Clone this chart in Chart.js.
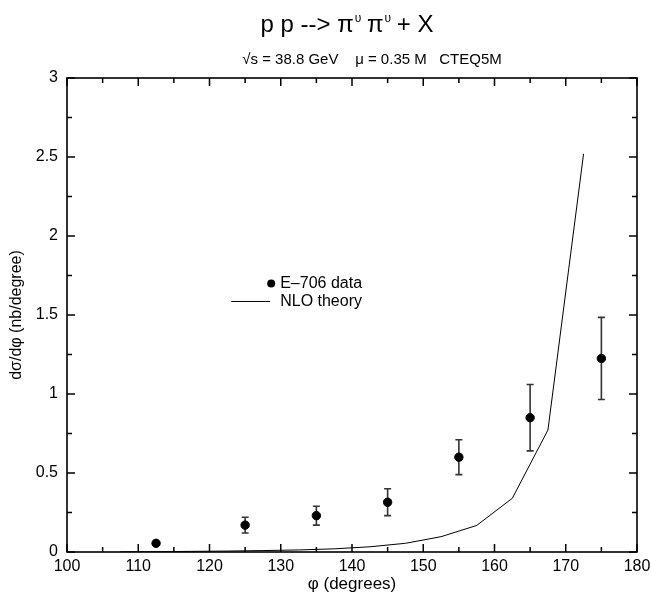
<!DOCTYPE html>
<html>
<head>
<meta charset="utf-8">
<script src="https://cdn.jsdelivr.net/npm/chart.js@4.4.1/dist/chart.umd.min.js"></script>
<style>
  html, body { margin: 0; padding: 0; background: #fff; }
  #wrap { width: 651px; height: 601px; }
</style>
</head>
<body>
<div id="wrap"><canvas id="c" width="651" height="601"></canvas></div>
<script>
// ---- data ----
const dataPhi = [112.5, 125, 135, 145, 155, 165, 175];
const dataVal = [0.055, 0.17, 0.23, 0.315, 0.60, 0.85, 1.225];
const dataErr = [0.008, 0.05, 0.06, 0.085, 0.11, 0.21, 0.26];

const theoryPhi = [107.5, 112.5, 117.5, 122.5, 127.5, 132.5, 137.5, 142.5, 147.5, 152.5, 157.5, 162.5, 167.5, 172.5];
const theoryVal = [0.001, 0.002, 0.004, 0.006, 0.009, 0.013, 0.02, 0.033, 0.055, 0.097, 0.168, 0.34, 0.772, 2.52];

const xMajorTicks = [100, 110, 120, 130, 140, 150, 160, 170, 180];
const xMinorTicks = [105, 115, 125, 135, 145, 155, 165, 175];
const yMajorTicks = [0, 0.5, 1, 1.5, 2, 2.5, 3];
const yMinorTicks = [0.25, 0.75, 1.25, 1.75, 2.25, 2.75];

const titleParts = ["p p --> π", "υ", " π", "υ", " + X"];
const subtitle = "√s = 38.8 GeV    μ = 0.35 M   CTEQ5M";
const xTitle = "φ (degrees)";
const yTitle = "dσ/dφ (nb/degree)";
const legendLabels = ["E–706 data", "NLO theory"];

const FONT = "'Liberation Sans', Arial, Helvetica, sans-serif";

// ---- plugins ----
const errorBars = {
  id: 'errorBars',
  beforeDatasetsDraw(chart) {
    const ctx = chart.ctx, xs = chart.scales.x, ys = chart.scales.y;
    ctx.save();
    ctx.strokeStyle = '#333';
    ctx.lineWidth = 1.6;
    for (let i = 0; i < dataPhi.length; i++) {
      const px = xs.getPixelForValue(dataPhi[i]);
      const pt = ys.getPixelForValue(dataVal[i] + dataErr[i]);
      const pb = ys.getPixelForValue(dataVal[i] - dataErr[i]);
      ctx.beginPath();
      ctx.moveTo(px, pt); ctx.lineTo(px, pb);
      ctx.moveTo(px - 3.5, pt); ctx.lineTo(px + 3.5, pt);
      ctx.moveTo(px - 3.5, pb); ctx.lineTo(px + 3.5, pb);
      ctx.stroke();
    }
    ctx.restore();
  }
};

const frameTicks = {
  id: 'frameTicks',
  afterDatasetsDraw(chart) {
    const ctx = chart.ctx, xs = chart.scales.x, ys = chart.scales.y;
    const a = chart.chartArea;
    ctx.save();
    ctx.strokeStyle = '#000';
    ctx.lineWidth = 1.5;
    ctx.beginPath();
    const maj = 8, min = 5;
    xMajorTicks.forEach(v => { const p = xs.getPixelForValue(v);
      ctx.moveTo(p, a.bottom); ctx.lineTo(p, a.bottom - maj);
      ctx.moveTo(p, a.top); ctx.lineTo(p, a.top + maj); });
    xMinorTicks.forEach(v => { const p = xs.getPixelForValue(v);
      ctx.moveTo(p, a.bottom); ctx.lineTo(p, a.bottom - min);
      ctx.moveTo(p, a.top); ctx.lineTo(p, a.top + min); });
    yMajorTicks.forEach(v => { const p = ys.getPixelForValue(v);
      ctx.moveTo(a.left, p); ctx.lineTo(a.left + maj, p);
      ctx.moveTo(a.right, p); ctx.lineTo(a.right - maj, p); });
    yMinorTicks.forEach(v => { const p = ys.getPixelForValue(v);
      ctx.moveTo(a.left, p); ctx.lineTo(a.left + min, p);
      ctx.moveTo(a.right, p); ctx.lineTo(a.right - min, p); });
    ctx.stroke();
    ctx.lineWidth = 1.6;
    ctx.strokeRect(a.left, a.top, a.right - a.left, a.bottom - a.top);
    ctx.restore();
  }
};

const texts = {
  id: 'texts',
  afterDraw(chart) {
    const ctx = chart.ctx, a = chart.chartArea;
    ctx.save();
    ctx.fillStyle = '#000';
    ctx.textBaseline = 'alphabetic';
    // main title with raised small superscripts
    const big = '24px ' + FONT, small = '12px ' + FONT;
    const widths = titleParts.map((t, i) => { ctx.font = (i % 2 === 1) ? small : big; return ctx.measureText(t).width; });
    const total = widths.reduce((s, w) => s + w, 0);
    let x = 347 - total / 2;
    titleParts.forEach((t, i) => {
      const sup = i % 2 === 1;
      ctx.font = sup ? small : big;
      ctx.textAlign = 'left';
      ctx.fillText(t, x + (sup ? 1 : 0), sup ? 22 : 32);
      x += widths[i];
    });
    // subtitle
    ctx.font = '15px ' + FONT;
    ctx.textAlign = 'center';
    ctx.fillText(subtitle, 372, 64);

    // legend (inside plot)
    const lx = a.left + (a.right - a.left) * 0.374;
    const ly1 = a.top + (a.bottom - a.top) * 0.4335;
    const ly2 = ly1 + 18;
    ctx.font = '16px ' + FONT;
    ctx.textAlign = 'left';
    ctx.textBaseline = 'middle';
    ctx.beginPath();
    ctx.arc(lx - 9, ly1, 4, 0, Math.PI * 2);
    ctx.fill();
    ctx.fillText(legendLabels[0], lx, ly1);
    ctx.strokeStyle = '#000';
    ctx.lineWidth = 1;
    ctx.beginPath();
    ctx.moveTo(lx - 49, ly2); ctx.lineTo(lx - 10, ly2);
    ctx.stroke();
    ctx.fillText(legendLabels[1], lx, ly2);
    ctx.restore();
  }
};

const ctx = document.getElementById('c').getContext('2d');
new Chart(ctx, {
  type: 'scatter',
  data: {
    datasets: [
      {
        label: legendLabels[0],
        data: dataPhi.map((p, i) => ({ x: p, y: dataVal[i] })),
        backgroundColor: '#000',
        borderColor: '#000',
        pointRadius: 4.2,
        pointHoverRadius: 4.2,
        showLine: false,
        order: 0
      },
      {
        label: legendLabels[1],
        data: theoryPhi.map((p, i) => ({ x: p, y: theoryVal[i] })),
        borderColor: '#000',
        borderWidth: 1,
        pointRadius: 0,
        showLine: true,
        fill: false,
        tension: 0,
        order: 1
      }
    ]
  },
  options: {
    responsive: false,
    animation: false,
    events: [],
    layout: { padding: { top: 78, right: 14, left: 0, bottom: 0 } },
    plugins: {
      legend: { display: false },
      title: { display: false },
      tooltip: { enabled: false }
    },
    scales: {
      x: {
        type: 'linear', min: 100, max: 180,
        afterFit(s) { s.height = 49; s.paddingLeft = 0; s.paddingRight = 0; },
        grid: { display: false, drawTicks: false },
        border: { display: false },
        ticks: {
          stepSize: 10, padding: 5, color: '#000',
          font: { family: FONT, size: 16 },
          callback: v => String(v)
        },
        title: {
          display: true, text: xTitle, color: '#000',
          font: { family: FONT, size: 17 }, padding: { top: 0, bottom: 6 }
        }
      },
      y: {
        type: 'linear', min: 0, max: 3,
        afterFit(s) { s.width = 67; s.paddingTop = 0; s.paddingBottom = 0; },
        grid: { display: false, drawTicks: false },
        border: { display: false },
        ticks: {
          stepSize: 0.5, padding: 9, color: '#000',
          font: { family: FONT, size: 16 },
          callback: v => String(v)
        },
        title: {
          display: true, text: yTitle, color: '#000',
          font: { family: FONT, size: 16 }, padding: { top: 7, bottom: 0 }
        }
      }
    }
  },
  plugins: [errorBars, frameTicks, texts]
});
</script>
</body>
</html>
